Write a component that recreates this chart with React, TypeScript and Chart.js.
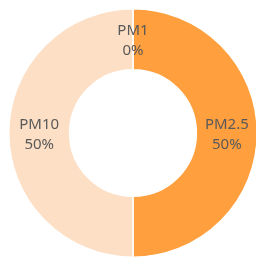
import React, { useEffect, useRef } from "react";
import { Chart, registerables } from "chart.js";

Chart.register(...registerables);

const categories = ["PM1", "PM2.5", "PM10"];
const values = [0, 50, 50];
const colors = ["#FBE5D6", "#FF9F3D", "#FDDFC5"];

const labelPlugin = {
  id: "segLabels",
  afterDatasetsDraw(chart: any) {
    const ctx = chart.ctx;
    const meta = chart.getDatasetMeta(0);
    const data = chart.data.datasets[0].data as number[];
    const total = data.reduce((a, b) => a + b, 0);
    ctx.save();
    ctx.fillStyle = "#595959";
    ctx.font = "15px 'Noto Sans', sans-serif";
    ctx.textAlign = "center";
    ctx.textBaseline = "middle";
    meta.data.forEach((arc: any, i: number) => {
      const p = arc.tooltipPosition(true);
      const pct = total ? Math.round((data[i] / total) * 100) : 0;
      ctx.fillText(String(chart.data.labels[i]), p.x, p.y - 8);
      ctx.fillText(pct + "%", p.x, p.y + 12);
    });
    ctx.restore();
  },
};

export default function App() {
  const ref = useRef<HTMLCanvasElement>(null);
  useEffect(() => {
    if (!ref.current) return;
    const chart = new Chart(ref.current, {
      type: "doughnut",
      data: {
        labels: categories,
        datasets: [
          {
            data: values,
            backgroundColor: colors,
            borderColor: "#ffffff",
            borderWidth: 1.5,
          },
        ],
      },
      options: {
        animation: false,
        responsive: true,
        maintainAspectRatio: false,
        cutout: "51%",
        layout: { padding: 0 },
        plugins: {
          legend: { display: false },
          tooltip: { enabled: false },
        },
      },
      plugins: [labelPlugin],
    });
    return () => chart.destroy();
  }, []);
  return (
    <div style={{ width: 250, height: 250 }}>
      <canvas ref={ref} />
    </div>
  );
}
